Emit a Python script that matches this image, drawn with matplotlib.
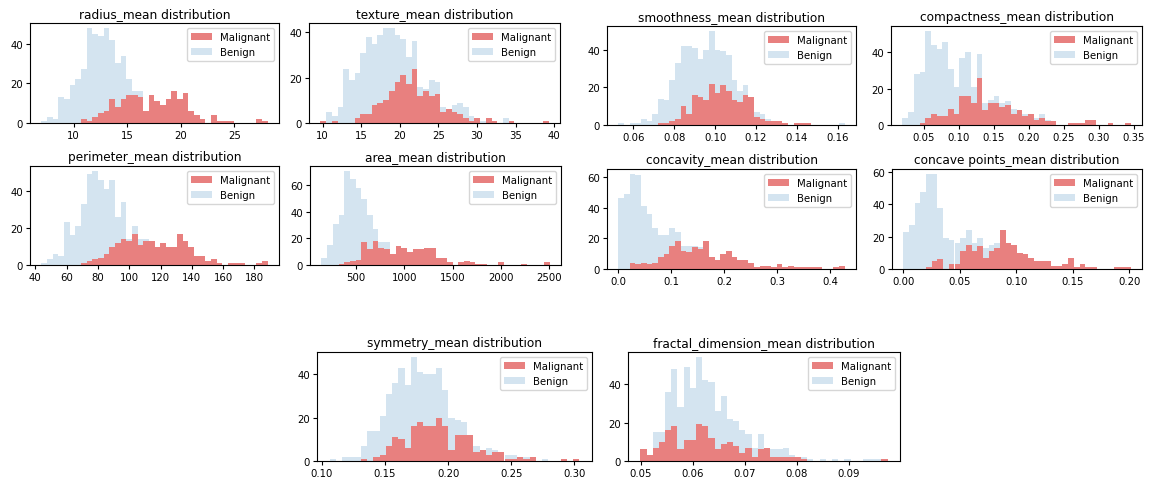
import numpy as np
import matplotlib.pyplot as plt
from matplotlib.patches import Patch
from matplotlib.ticker import MultipleLocator

# value range (min, max) of each feature; 40 equal-width bins span it
radius_range = (6.981, 28.11)
texture_range = (9.71, 39.28)
perimeter_range = (43.79, 188.5)
area_range = (143.5, 2501.0)
smoothness_range = (0.05263, 0.1634)
compactness_range = (0.01938, 0.3454)
concavity_range = (0.0, 0.4268)
concave_points_range = (0.0, 0.2012)
symmetry_range = (0.106, 0.304)
fractal_range = (0.04996, 0.09744)

# counts per bin
radius_malignant = [0, 0, 0, 0, 0, 0, 0, 2, 1, 3, 5, 6, 12, 8, 12, 14, 14, 13, 6, 14,
                    11, 9, 12, 16, 12, 15, 6, 4, 2, 0, 4, 1, 1, 1, 0, 0, 0, 0, 2, 1]
radius_benign = [1, 3, 2, 13, 12, 19, 22, 27, 48, 45, 44, 48, 42, 30, 34, 22, 16, 16, 6, 2,
                 1, 0, 0, 0, 0, 0, 0, 0, 0, 0, 0, 0, 0, 0, 0, 0, 0, 0, 0, 0]

texture_malignant = [1, 0, 1, 0, 0, 0, 2, 4, 4, 8, 9, 10, 14, 18, 21, 17, 24, 12, 14, 12,
                     13, 5, 6, 5, 4, 2, 1, 2, 0, 2, 1, 0, 0, 1, 0, 0, 0, 0, 0, 1]
texture_benign = [1, 5, 3, 7, 24, 19, 22, 31, 38, 35, 39, 42, 42, 39, 37, 29, 36, 16, 15, 19,
                  18, 7, 5, 8, 9, 7, 3, 2, 1, 1, 0, 0, 2, 0, 0, 0, 0, 0, 0, 0]

perimeter_malignant = [0, 0, 0, 0, 0, 0, 0, 1, 2, 3, 4, 6, 10, 12, 14, 13, 17, 11, 13, 13,
                       10, 12, 10, 10, 17, 13, 10, 5, 5, 2, 3, 1, 0, 1, 1, 1, 0, 0, 1, 2]
perimeter_benign = [1, 3, 6, 5, 23, 16, 21, 33, 49, 51, 46, 41, 46, 26, 34, 14, 21, 14, 14, 12,
                    0, 0, 0, 0, 0, 0, 0, 0, 0, 0, 0, 0, 0, 0, 0, 0, 0, 0, 0, 0]

area_malignant = [0, 0, 0, 1, 2, 3, 4, 17, 12, 18, 13, 12, 8, 14, 13, 10, 12, 12, 13, 13,
                  5, 5, 2, 0, 2, 3, 2, 1, 1, 0, 0, 2, 0, 0, 0, 1, 0, 0, 0, 2]
area_benign = [5, 15, 31, 38, 71, 65, 58, 50, 38, 27, 17, 17, 8, 4, 2, 0, 0, 0, 0, 0,
               0, 0, 0, 0, 0, 0, 0, 0, 0, 0, 0, 0, 0, 0, 0, 0, 0, 0, 0, 0]

smoothness_malignant = [0, 0, 0, 0, 0, 0, 0, 1, 1, 2, 3, 10, 6, 16, 15, 13, 22, 17, 21, 18,
                        13, 12, 16, 15, 4, 3, 2, 2, 2, 1, 0, 1, 1, 1, 0, 0, 0, 0, 0, 0]
smoothness_benign = [1, 0, 1, 1, 3, 2, 6, 14, 13, 24, 33, 42, 42, 41, 35, 40, 50, 40, 39, 37,
                     24, 18, 21, 14, 7, 6, 3, 2, 1, 0, 0, 0, 0, 0, 0, 0, 0, 0, 0, 1]

compactness_malignant = [0, 0, 0, 1, 4, 6, 5, 5, 9, 6, 16, 16, 12, 26, 8, 12, 12, 10, 11, 6,
                         8, 5, 6, 3, 4, 2, 2, 0, 0, 1, 1, 1, 3, 3, 0, 0, 1, 0, 0, 1]
compactness_benign = [4, 7, 28, 29, 52, 44, 42, 46, 31, 21, 37, 40, 21, 39, 12, 14, 16, 12, 13, 9,
                      6, 6, 5, 4, 6, 3, 0, 0, 0, 0, 0, 0, 0, 0, 0, 0, 0, 0, 0, 0]

concavity_malignant = [0, 0, 4, 3, 4, 3, 4, 8, 10, 15, 18, 12, 11, 14, 13, 18, 8, 6, 10, 12,
                       8, 6, 6, 4, 1, 2, 2, 1, 3, 1, 2, 1, 1, 1, 1, 1, 0, 0, 1, 2]
concavity_benign = [46, 49, 62, 61, 41, 36, 27, 22, 22, 27, 24, 15, 15, 15, 14, 7, 5, 3, 3, 2,
                    2, 1, 1, 1, 0, 0, 0, 0, 0, 0, 0, 0, 0, 0, 0, 0, 0, 0, 1, 0]

concave_points_malignant = [0, 0, 0, 0, 1, 5, 6, 0, 3, 3, 11, 15, 11, 14, 7, 11, 13, 24, 16, 15,
                            10, 9, 7, 5, 5, 5, 2, 2, 3, 7, 1, 3, 1, 1, 0, 0, 0, 1, 1, 1]
concave_points_benign = [23, 27, 41, 48, 59, 59, 38, 19, 18, 16, 19, 24, 16, 19, 13, 15, 16, 0, 0, 0,
                         0, 0, 0, 0, 0, 0, 0, 0, 0, 0, 0, 0, 0, 0, 0, 0, 0, 0, 0, 0]

symmetry_malignant = [0, 0, 0, 0, 0, 1, 0, 2, 3, 7, 11, 10, 6, 16, 18, 16, 16, 20, 16, 5,
                      12, 12, 12, 4, 5, 3, 4, 4, 1, 1, 2, 1, 2, 0, 0, 0, 0, 1, 0, 1]
symmetry_benign = [1, 0, 2, 2, 2, 7, 14, 14, 21, 31, 36, 43, 35, 48, 41, 40, 40, 43, 33, 20,
                   19, 18, 7, 7, 4, 6, 5, 2, 3, 3, 2, 2, 1, 0, 1, 0, 0, 0, 0, 0]

fractal_malignant = [6, 3, 7, 10, 16, 18, 6, 11, 11, 19, 18, 12, 6, 9, 10, 8, 4, 7, 2, 6,
                     7, 2, 2, 2, 2, 2, 1, 0, 0, 0, 0, 0, 0, 0, 0, 0, 0, 0, 0, 1]
fractal_benign = [1, 2, 15, 15, 36, 48, 28, 49, 38, 54, 42, 41, 26, 34, 22, 21, 16, 14, 7, 14,
                  7, 6, 6, 7, 3, 2, 2, 1, 0, 1, 0, 1, 0, 1, 0, 0, 1, 1, 1, 0]

# (name, range, malignant, benign, axes box in pixels: left, top, right, bottom)
panels = [
    ("radius_mean", radius_range, radius_malignant, radius_benign, (30, 24, 279, 124)),
    ("texture_mean", texture_range, texture_malignant, texture_benign, (309, 24, 560, 124)),
    ("perimeter_mean", perimeter_range, perimeter_malignant, perimeter_benign, (30, 167, 279, 266)),
    ("area_mean", area_range, area_malignant, area_benign, (310, 167, 561, 266)),
    ("smoothness_mean", smoothness_range, smoothness_malignant, smoothness_benign, (607, 27, 856, 126)),
    ("compactness_mean", compactness_range, compactness_malignant, compactness_benign, (891, 27, 1142, 126)),
    ("concavity_mean", concavity_range, concavity_malignant, concavity_benign, (607, 170, 856, 270)),
    ("concave points_mean", concave_points_range, concave_points_malignant, concave_points_benign,
     (892, 170, 1142, 270)),
    ("symmetry_mean", symmetry_range, symmetry_malignant, symmetry_benign, (317, 353, 592, 462)),
    ("fractal_dimension_mean", fractal_range, fractal_malignant, fractal_benign, (628, 353, 900, 462)),
]

W, H = 1149, 481
RED = "#e8807f"
BLUE = "#d4e4f0"

fig = plt.figure(figsize=(W / 100, H / 100), dpi=100)

for name, (lo, hi), malignant, benign, (l, t, r, b) in panels:
    ax = fig.add_axes([l / W, 1 - b / H, (r - l) / W, (b - t) / H])
    edges = np.linspace(lo, hi, len(malignant) + 1)
    centers = (edges[:-1] + edges[1:]) / 2
    ax.hist(centers, bins=edges, weights=benign, color=BLUE)
    ax.hist(centers, bins=edges, weights=malignant, color=RED)
    ax.set_title(f"{name} distribution", fontsize=8.7, pad=4)
    ax.tick_params(labelsize=7.3, length=3, pad=2)
    if name == "symmetry_mean":
        ax.xaxis.set_major_locator(MultipleLocator(0.05))
    handles = [Patch(facecolor=RED), Patch(facecolor=BLUE)]
    ax.legend(handles, ["Malignant", "Benign"], loc="upper right", fontsize=7.3)

fig.savefig("out.png", dpi=100)
